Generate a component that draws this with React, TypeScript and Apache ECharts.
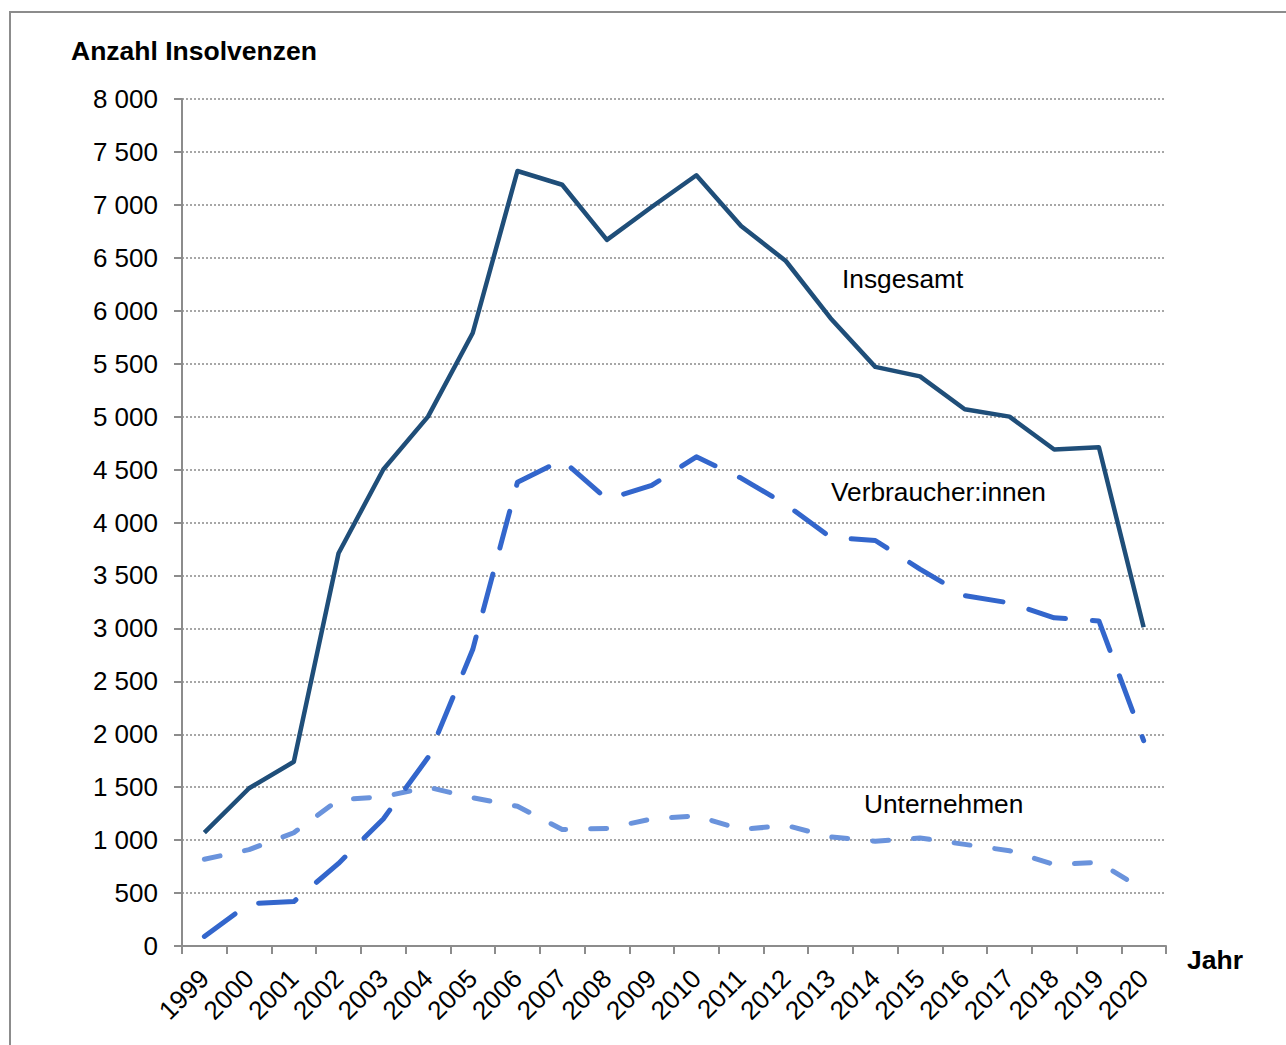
import React, { useEffect, useRef } from "react";
import * as echarts from "echarts";

const years = ["1999","2000","2001","2002","2003","2004","2005","2006","2007","2008","2009","2010","2011","2012","2013","2014","2015","2016","2017","2018","2019","2020"];
const insgesamt = [1070,1490,1740,3710,4500,5000,5790,7320,7190,6670,6980,7280,6800,6470,5930,5470,5380,5070,5000,4690,4710,3010];
const verbraucher = [90,400,420,780,1200,1780,2800,4380,4590,4220,4350,4620,4420,4170,3860,3830,3560,3310,3240,3100,3070,1940];
const unternehmen = [820,910,1070,1380,1410,1500,1400,1320,1100,1110,1200,1230,1100,1140,1030,990,1020,960,900,770,790,530];
const yTicks = [0, 8000, 500];

const FONT = "'Liberation Sans', Arial, sans-serif";

export default function App() {
  const ref = useRef<HTMLDivElement>(null);
  useEffect(() => {
    document.body.style.margin = "0";
    const chart = echarts.init(ref.current!, null, { renderer: "svg" });
    const fmt = (v: number) => {
      const s = String(v);
      return s.length > 3 ? s.slice(0, s.length - 3) + " " + s.slice(s.length - 3) : s;
    };
    chart.setOption({
      animation: false,
      backgroundColor: "#ffffff",
      grid: { left: 182, right: 120, top: 99, bottom: 99, containLabel: false },
      xAxis: {
        type: "category",
        data: years,
        boundaryGap: true,
        axisLine: { lineStyle: { color: "#8c8c8c", width: 2 } },
        axisTick: { show: true, length: 8, lineStyle: { color: "#8c8c8c", width: 2 } },
        axisLabel: { rotate: 45, interval: 0, margin: 28, color: "#000", fontSize: 26, fontFamily: FONT },
        splitLine: { show: false },
      },
      yAxis: {
        type: "value",
        min: yTicks[0],
        max: yTicks[1],
        interval: yTicks[2],
        axisLine: { show: true, lineStyle: { color: "#8c8c8c", width: 2 } },
        axisTick: { show: true, length: 8, lineStyle: { color: "#8c8c8c", width: 2 } },
        axisLabel: { margin: 24, color: "#000", fontSize: 26, fontFamily: FONT, formatter: fmt },
        splitLine: { show: true, lineStyle: { color: "#8a8a8a", width: 1.5, type: [2, 2] } },
      },
      series: [
        {
          name: "Unternehmen",
          type: "line",
          data: unternehmen,
          symbol: "none",
          lineStyle: { color: "#6a93dc", width: 5, type: [16, 25], cap: "round", join: "round" },
          z: 2,
        },
        {
          name: "Verbraucher:innen",
          type: "line",
          data: verbraucher,
          symbol: "none",
          lineStyle: { color: "#3366cc", width: 5, type: [38, 27], cap: "round", join: "round" },
          z: 3,
        },
        {
          name: "Insgesamt",
          type: "line",
          data: insgesamt,
          symbol: "none",
          lineStyle: { color: "#1f4e79", width: 4.5, join: "round" },
          z: 4,
        },
      ],
      graphic: [
        { type: "rect", shape: { x: 10, y: 12, width: 1400, height: 1200 }, style: { fill: "none", stroke: "#8c8c8c", lineWidth: 2 }, z: -1 },
        { type: "text", x: 71, y: 51, style: { text: "Anzahl Insolvenzen", font: `bold 26.5px ${FONT}`, fill: "#000", textVerticalAlign: "middle" } },
        { type: "text", x: 1187, y: 960, style: { text: "Jahr", font: `bold 26.5px ${FONT}`, fill: "#000", textVerticalAlign: "middle" } },
        { type: "text", x: 842, y: 279, style: { text: "Insgesamt", font: `26.3px ${FONT}`, fill: "#000", textVerticalAlign: "middle" } },
        { type: "text", x: 831, y: 492, style: { text: "Verbraucher:innen", font: `26.3px ${FONT}`, fill: "#000", textVerticalAlign: "middle" } },
        { type: "text", x: 864, y: 804, style: { text: "Unternehmen", font: `26.3px ${FONT}`, fill: "#000", textVerticalAlign: "middle" } },
      ],
    });
    return () => chart.dispose();
  }, []);
  return <div ref={ref} style={{ width: 1286, height: 1045 }} />;
}
